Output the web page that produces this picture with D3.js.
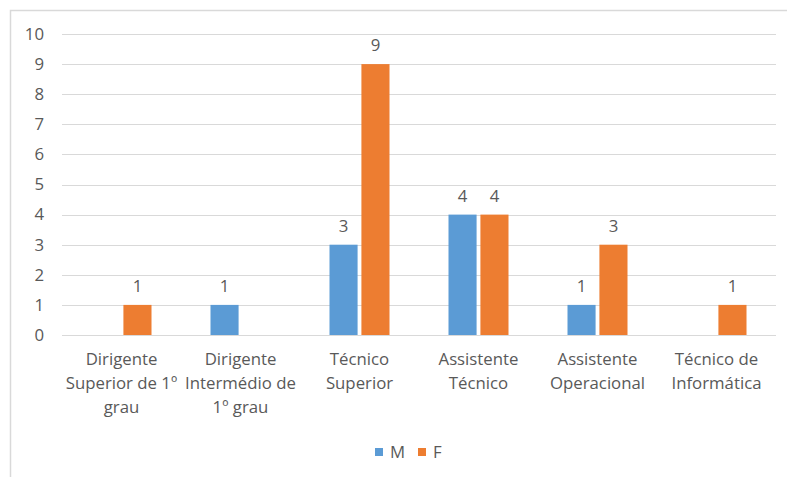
<!DOCTYPE html>
<html>
<head>
<meta charset="utf-8">
<script src="https://cdn.jsdelivr.net/npm/d3@7"></script>
<style>
  body { margin: 0; background: #fff; }
  text { font-family: "Open Sans", "Noto Sans", sans-serif; fill: #595959; }
</style>
</head>
<body>
<div class="chart"></div>
<script>
// data
var categories = ["Dirigente Superior de 1º grau", "Dirigente Intermédio de 1º grau", "Técnico Superior",
    "Assistente Técnico", "Assistente Operacional", "Técnico de Informática"];
var tickLabels = [
    ["Dirigente", "Superior de 1º", "grau"],
    ["Dirigente", "Intermédio de", "1º grau"],
    ["Técnico", "Superior"],
    ["Assistente", "Técnico"],
    ["Assistente", "Operacional"],
    ["Técnico de", "Informática"]
];
var seriesNames = ["M", "F"];
var valuesM = [0, 1, 3, 4, 1, 0];
var valuesF = [1, 0, 9, 4, 3, 1];
var yTicks = [0, 1, 2, 3, 4, 5, 6, 7, 8, 9, 10];

var colors = { M: "#5B9BD5", F: "#ED7D31" };
var fontSize = "16.8px";

var svgWidth = 787;
var svgHeight = 477;
var margin = { top: 34, right: 11, bottom: 142, left: 62 };
var width = svgWidth - margin.left - margin.right;
var height = svgHeight - margin.top - margin.bottom;

var root = d3.select(".chart")
    .append("svg")
    .attr("width", svgWidth)
    .attr("height", svgHeight);

// chart border
root.append("rect")
    .attr("x", 10.5).attr("y", 10.5)
    .attr("width", 800).attr("height", 500)
    .attr("fill", "none")
    .attr("stroke", "#d9d9d9")
    .attr("stroke-width", 1.5);

var svg = root.append("g")
    .attr("transform", `translate(${margin.left},${margin.top})`);

var table = categories.map(function (c, i) {
    return { cat: c, M: valuesM[i], F: valuesF[i], lines: tickLabels[i] };
});

var x0 = d3.scaleBand().domain(categories).range([0, width]).paddingInner(0).paddingOuter(0);
var x1 = d3.scaleBand().domain(seriesNames).range([0, 60]).paddingInner(0.12);
var y = d3.scaleLinear().domain([0, 10]).range([height, 0]);

// gridlines
svg.append("g")
    .selectAll("line")
    .data(yTicks)
    .enter()
    .append("line")
    .attr("x1", 0)
    .attr("x2", width)
    .attr("y1", function (d) { return Math.round(y(d)) + 0.5; })
    .attr("y2", function (d) { return Math.round(y(d)) + 0.5; })
    .attr("stroke", "#d9d9d9")
    .attr("stroke-width", 1);

// y axis labels
var yAxis = d3.axisLeft(y).tickValues(yTicks).tickSize(0).tickPadding(18);
var yg = svg.append("g").call(yAxis);
yg.select(".domain").remove();
yg.selectAll("text").attr("font-size", fontSize).style("font-family", null).attr("fill", null);

var groups = svg.selectAll(".group")
    .data(table)
    .enter()
    .append("g")
    .attr("class", "group")
    .attr("transform", function (d) {
        return `translate(${x0(d.cat) + x0.bandwidth() / 2 - 30},0)`;
    });

seriesNames.forEach(function (s) {
    var g = groups.filter(function (d) { return d[s] > 0; });
    g.append("rect")
        .attr("x", x1(s))
        .attr("width", x1.bandwidth())
        .attr("y", function (d) { return y(d[s]); })
        .attr("height", function (d) { return y(0) - y(d[s]); })
        .attr("fill", colors[s]);
    g.append("text")
        .attr("x", x1(s) + x1.bandwidth() / 2)
        .attr("y", function (d) { return y(d[s]) - 13; })
        .attr("text-anchor", "middle")
        .attr("font-size", fontSize)
        .text(function (d) { return d[s]; });
});

// category labels
var xl = svg.append("g").attr("transform", `translate(0,${height})`);
xl.selectAll("text")
    .data(table)
    .enter()
    .append("text")
    .attr("x", function (d) { return x0(d.cat) + x0.bandwidth() / 2; })
    .attr("y", 30)
    .attr("text-anchor", "middle")
    .attr("font-size", fontSize)
    .selectAll("tspan")
    .data(function (d) { return d.lines; })
    .enter()
    .append("tspan")
    .attr("x", function () { var p = d3.select(this.parentNode).datum(); return x0(p.cat) + x0.bandwidth() / 2; })
    .attr("dy", function (d, i) { return i === 0 ? 0 : 24; })
    .text(function (d) { return d; });

// legend
var legend = root.append("g").attr("transform", "translate(375,452)");
var legendX = { M: 0, F: 43 };
seriesNames.forEach(function (s) {
    var lg = legend.append("g").attr("transform", `translate(${legendX[s]},0)`);
    lg.append("rect").attr("x", 0).attr("y", -4).attr("width", 8).attr("height", 8).attr("fill", colors[s]);
    lg.append("text").attr("x", 15).attr("y", 6).attr("font-size", fontSize).text(s);
});
</script>
</body>
</html>
